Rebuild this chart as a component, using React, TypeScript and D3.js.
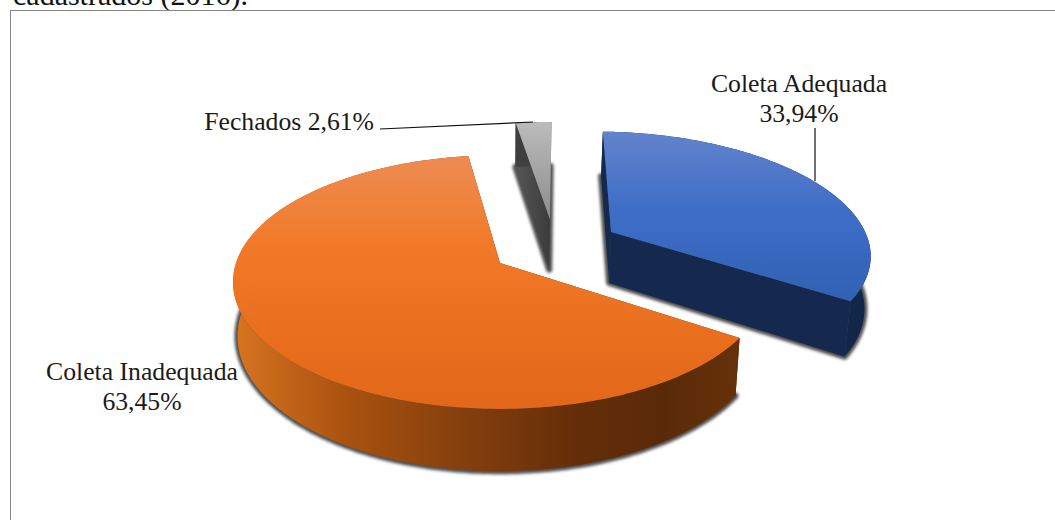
import React from "react";
import * as d3 from "d3";

// Shares of the collection survey, clockwise from the top of the pie
const categories = ["Coleta Adequada", "Coleta Inadequada", "Fechados"];
const shares = [33.94, 63.45, 2.61];
const shareLabels = ["33,94%", "63,45%", "2,61%"];
const headingTail = "cadastrados (2016).";

const WIDTH = 1055;
const HEIGHT = 520;
const SERIF = "'Liberation Serif', serif";

// Perspective set-up for the tilted disc
const CX = 500;
const CY = 263;
const RX = 264;
const RY = 124;
const TILT = 0.15;
const DEPTH = 53;
const BASE_SHRINK = 0.983;
const ROTATION = (1.5 * Math.PI) / 180;

// How far each slice is pulled away from the disc centre (in disc units)
const explode: [number, number][] = [
  [0.437, -0.26],
  [0, 0],
  [0.2, -0.37],
];
const sliceNudge = [0, 0, (0.5 * Math.PI) / 180];

type P = [number, number];

const projectTop = (u: number, v: number): P => {
  const w = 1 - TILT * v;
  return [CX + (RX * u) / w, CY + (RY * v) / w];
};

const projectBase = (u: number, v: number): P => {
  const w = 1 - TILT * v;
  return [CX + (BASE_SHRINK * RX * u) / w, CY + (RY * v + DEPTH) / w];
};

const pie = d3
  .pie<number>()
  .sort(null)
  .startAngle(ROTATION)
  .endAngle(ROTATION + 2 * Math.PI);

const outline = d3.line<P>();

const arcAngles = (a0: number, a1: number) => {
  const n = Math.max(4, Math.ceil((a1 - a0) / 0.015));
  return d3.range(n + 1).map((i) => a0 + ((a1 - a0) * i) / n);
};

const arcPoints = (
  a0: number,
  a1: number,
  off: [number, number],
  proj: (u: number, v: number) => P,
) =>
  arcAngles(a0, a1).map((a) =>
    proj(off[0] + Math.sin(a), off[1] - Math.cos(a)),
  );

const closed = (pts: P[]) => `${outline(pts)}Z`;

const wedges = pie(shares).map((d, i) => {
  const off = explode[i];
  const a0 = d.startAngle + sliceNudge[i];
  const a1 = d.endAngle + sliceNudge[i];
  const topArc = arcPoints(a0, a1, off, projectTop);
  const baseArc = arcPoints(a0, a1, off, projectBase);
  const topApex = projectTop(off[0], off[1]);
  const baseApex = projectBase(off[0], off[1]);
  return {
    name: categories[i],
    top: closed([topApex, ...topArc]),
    base: closed([baseApex, ...baseArc]),
    wall: closed([...topArc, ...baseArc.slice().reverse()]),
    cutStart: closed([topApex, topArc[0], baseArc[0], baseApex]),
    cutEnd: closed([
      topApex,
      topArc[topArc.length - 1],
      baseArc[baseArc.length - 1],
      baseApex,
    ]),
  };
});

const wallFill = ["url(#wallBlue)", "url(#wallOrange)", "#3f3f3f"];
const cutFill = ["#15294f", "#5b2b08", "url(#cutGray)"];
const topFill = ["url(#topBlue)", "url(#topOrange)", "url(#topGray)"];
// Painting order: farthest slice first
const paintOrder = [2, 0, 1];

const labelStyle = {
  fontFamily: SERIF,
  fontSize: 25.7,
  fill: "#1a1a1a",
} as const;

export default function App() {
  return (
    <svg
      width={WIDTH}
      height={HEIGHT}
      viewBox={`0 0 ${WIDTH} ${HEIGHT}`}
      style={{ position: "absolute", left: 0, top: 0, display: "block", background: "#fff" }}
    >
      <defs>
        <filter id="soft" x="-20%" y="-20%" width="140%" height="140%">
          <feGaussianBlur stdDeviation="1.8" />
        </filter>
        <linearGradient id="topOrange" gradientUnits="userSpaceOnUse" x1="0" y1="156" x2="0" y2="409">
          <stop offset="0" stopColor="#ee8b52" />
          <stop offset="0.35" stopColor="#f17a28" />
          <stop offset="0.7" stopColor="#e96f1e" />
          <stop offset="1" stopColor="#e2671a" />
        </linearGradient>
        <linearGradient id="topBlue" gradientUnits="userSpaceOnUse" x1="0" y1="131" x2="0" y2="298">
          <stop offset="0" stopColor="#6384cc" />
          <stop offset="0.45" stopColor="#3f6ec8" />
          <stop offset="1" stopColor="#3162b5" />
        </linearGradient>
        <linearGradient id="topGray" gradientUnits="userSpaceOnUse" x1="0" y1="121" x2="0" y2="220">
          <stop offset="0" stopColor="#bcbcbc" />
          <stop offset="1" stopColor="#8c8c8c" />
        </linearGradient>
        <linearGradient id="cutGray" gradientUnits="userSpaceOnUse" x1="517" y1="0" x2="552" y2="0">
          <stop offset="0" stopColor="#555555" />
          <stop offset="1" stopColor="#3a3a3a" />
        </linearGradient>
        <linearGradient id="wallBlue" gradientUnits="userSpaceOnUse" x1="600" y1="0" x2="870" y2="0">
          <stop offset="0" stopColor="#15294f" />
          <stop offset="1" stopColor="#12264a" />
        </linearGradient>
        <linearGradient id="wallOrange" gradientUnits="userSpaceOnUse" x1="237" y1="0" x2="739" y2="0">
          <stop offset="0" stopColor="#d6731f" />
          <stop offset="0.22" stopColor="#a9520f" />
          <stop offset="0.45" stopColor="#843f0d" />
          <stop offset="0.68" stopColor="#642d09" />
          <stop offset="0.85" stopColor="#5a2a08" />
          <stop offset="1" stopColor="#663109" />
        </linearGradient>
      </defs>

      <text x={13} y={4.5} style={{ fontFamily: SERIF, fontSize: 30, fill: "#111" }}>
        {headingTail}
      </text>

      <rect x={10.5} y={10.5} width={1060} height={530} fill="#fff" stroke="#868686" strokeWidth={1} />

      {/* Soft drop shadows sit under every slice */}
      {paintOrder.map((i) => (
        <path
          key={`shadow-${i}`}
          d={wedges[i].base}
          fill="#2e2e2e"
          stroke="#2e2e2e"
          strokeWidth={6}
          strokeLinejoin="round"
          opacity={0.85}
          filter="url(#soft)"
        />
      ))}

      {paintOrder.map((i) => (
        <g key={wedges[i].name}>
          <path d={wedges[i].cutStart} fill={cutFill[i]} />
          <path d={wedges[i].cutEnd} fill={cutFill[i]} />
          <path d={wedges[i].wall} fill={wallFill[i]} />
          <path d={wedges[i].top} fill={topFill[i]} />
        </g>
      ))}

      <line x1={380} y1={129} x2={533} y2={122} stroke="#111" strokeWidth={1.2} />
      <line x1={815} y1={128} x2={815} y2={181} stroke="#111" strokeWidth={1.2} />

      <text textAnchor="middle" style={labelStyle}>
        <tspan x={799} y={92}>{categories[0]}</tspan>
        <tspan x={799} y={122}>{shareLabels[0]}</tspan>
      </text>
      <text textAnchor="middle" style={labelStyle}>
        <tspan x={142} y={380}>{categories[1]}</tspan>
        <tspan x={142} y={410}>{shareLabels[1]}</tspan>
      </text>
      <text x={374} y={130} textAnchor="end" style={labelStyle}>
        {`${categories[2]} ${shareLabels[2]}`}
      </text>
    </svg>
  );
}
